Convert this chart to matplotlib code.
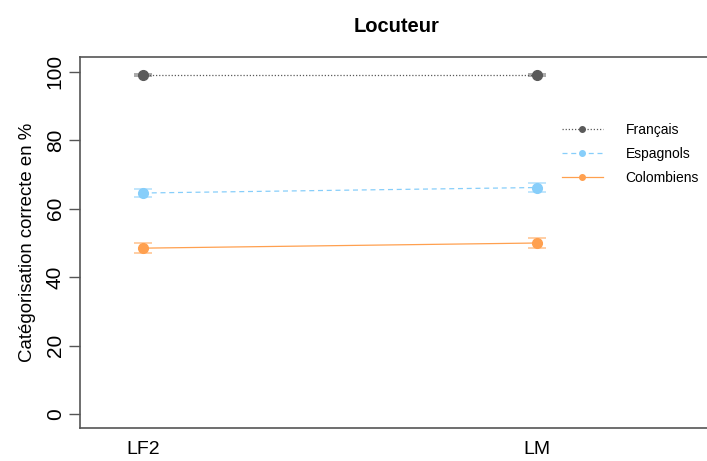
import numpy as np
import matplotlib
matplotlib.use("Agg")
import matplotlib.pyplot as plt

plt.rcParams['font.family'] = ['Liberation Sans', 'DejaVu Sans']

conditions = ["LF2", "LM"]
groups = ["Français", "Espagnols", "Colombiens"]
francais = [99.1, 99.1]
espagnols = [64.6, 66.2]
colombiens = [48.5, 50.0]
err_francais = [0.3, 0.3]
err_espagnols = [1.1, 1.3]
err_colombiens = [1.5, 1.4]

colors = ["#5a5a5a", "#87cefa", "#ffa04f"]
styles = [(0, (1, 1.5)), (0, (4, 3)), "-"]

fig = plt.figure(figsize=(7.07, 4.61), dpi=100)
ax = fig.add_axes([80/707, 33/461, 634/707, 371/461])

x = np.array([1, 2])
series = [francais, espagnols, colombiens]
errs = [err_francais, err_espagnols, err_colombiens]
for name, vals, err, col, ls in zip(groups, series, errs, colors, styles):
    ax.plot(x, vals, color=col, linestyle=ls, linewidth=0.9, label=name,
            marker='o', markersize=4)
    ax.errorbar(x, vals, yerr=err, fmt='none', ecolor=col, alpha=0.6,
                elinewidth=1.2, capsize=6.5, capthick=1.2)
    ax.plot(x, vals, 'o', color=col, markersize=7, linestyle='none')

ax.set_xlim(0.84, 2.45)
ax.set_ylim(-4, 104.3)
ax.set_xticks(x)
ax.set_xticklabels(conditions, fontsize=14)
ax.tick_params(axis='x', length=0, pad=9)
ax.set_yticks([0, 20, 40, 60, 80, 100])
ax.tick_params(axis='y', length=8, width=1, color='#555555', labelsize=15, pad=3)
for lab in ax.get_yticklabels():
    lab.set_rotation(90)
    lab.set_va('center')
ax.set_ylabel("Catégorisation correcte en %", fontsize=13.4, labelpad=7)
ax.set_title("Locuteur", fontsize=14.5, fontweight='bold', pad=18)

for s in ['left', 'bottom', 'top']:
    ax.spines[s].set_color('#555555')
    ax.spines[s].set_linewidth(1.2)
ax.spines['right'].set_visible(False)

leg = ax.legend(loc='upper left', bbox_to_anchor=(0.74, 0.855), frameon=False,
                fontsize=10, handlelength=3, handletextpad=1.6, labelspacing=0.72)

fig.savefig("out.png", dpi=100)
